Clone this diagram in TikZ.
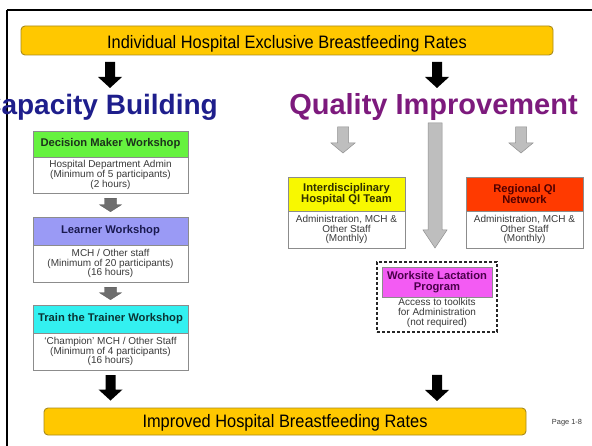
\documentclass[tikz,border=0pt]{standalone}
\usepackage{fontspec}
\setmainfont{Liberation Sans}
\newfontfamily\narrowsans[FakeStretch=0.91]{Liberation Sans}
\usetikzlibrary{calc}
\definecolor{barfill}{HTML}{FFC800}
\definecolor{barline}{HTML}{A88A1C}
\definecolor{dmgreen}{HTML}{66F23F}
\definecolor{lwblue}{HTML}{9A9AF5}
\definecolor{ttcyan}{HTML}{33F0F0}
\definecolor{idyellow}{HTML}{F8F800}
\definecolor{rqred}{HTML}{FF3A00}
\definecolor{wsmag}{HTML}{F35BF3}
\definecolor{bodytext}{HTML}{3A3A3A}
\definecolor{boxline}{HTML}{8C8C8C}
\definecolor{capnavy}{HTML}{1E1E8C}
\definecolor{qipurple}{HTML}{7D1A7D}
\definecolor{darkarrow}{HTML}{6E6E6E}
\definecolor{lightarrow}{HTML}{BEBEBE}
\definecolor{lightarrowline}{HTML}{8F8F8F}
\definecolor{dmtext}{HTML}{1C321C}
\definecolor{lwtext}{HTML}{1A1A50}
\definecolor{tttext}{HTML}{0A3434}
\definecolor{idtext}{HTML}{303000}
\definecolor{rqtext}{HTML}{500000}
\definecolor{wstext}{HTML}{4A004A}
\newcommand\blockarrow[6][]{%
  \path[#1] let \p1=(#2), \p2=(#3) in
    ({\x1-#4pt},{\y1}) -- ({\x1+#4pt},{\y1}) -- ({\x1+#4pt},{\y2+#6pt}) --
    ({\x1+#5pt},{\y2+#6pt}) -- ({\x1},{\y2}) -- ({\x1-#5pt},{\y2+#6pt}) --
    ({\x1-#4pt},{\y2+#6pt}) -- cycle;}
\tikzset{
  bar/.style={draw=barline, line width=0.9pt, fill=barfill, rounded corners=4pt,
    inner sep=0pt, font=\narrowsans\fontsize{18pt}{20pt}\selectfont},
  hdr/.style={draw=boxline, line width=0.5pt, inner sep=0pt, align=center,
    font=\bfseries\fontsize{11.2pt}{11pt}\selectfont},
  bdy/.style={draw=boxline, line width=0.5pt, fill=white, inner sep=0pt, align=center,
    text=bodytext, font=\fontsize{10pt}{9.6pt}\selectfont},
  title/.style={inner sep=0pt, anchor=base, font=\bfseries\fontsize{29pt}{32pt}\selectfont},
  blackarrow/.style={fill=black},
  darkgray/.style={fill=darkarrow, draw=darkarrow!80!black, line width=0.3pt},
  lightgray/.style={fill=lightarrow, draw=lightarrowline, line width=0.5pt},
}
\begin{document}
\begin{tikzpicture}[x=1pt,y=-1pt]
\useasboundingbox (0,0) rectangle (592,446);
\clip (0,0) rectangle (592,446);
\fill[white] (0,0) rectangle (592,446);
% frame
\draw[line width=2pt] (7,10) -- (600,10);
\draw[line width=2pt] (7,10) -- (7,460);
% top and bottom bars
\node[bar, minimum width=532pt, minimum height=29pt] (topbar) at (287,40.5) {};
\node[inner sep=0pt, anchor=base, font=\narrowsans\fontsize{18pt}{20pt}\selectfont] (toptext) at (287,48.5) {Individual Hospital Exclusive Breastfeeding Rates};
\node[bar, minimum width=482pt, minimum height=27pt] (botbar) at (285,421.5) {};
\node[inner sep=0pt, anchor=base, font=\narrowsans\fontsize{18pt}{20pt}\selectfont] (bottext) at (285,428) {Improved Hospital Breastfeeding Rates};
\node[inner sep=0pt, text=bodytext, font=\fontsize{7.4pt}{8pt}\selectfont] (page) at (567,423) {Page 1-8};
% titles
\node[title, text=capnavy, anchor=base east, font=\bfseries\fontsize{28pt}{32pt}\selectfont] (cap) at (218,115) {Capacity Building};
\node[title, text=qipurple] (qi) at (433.5,115) {Quality Improvement};
% left column
\node[hdr, fill=dmgreen, text=dmtext, minimum width=155pt, minimum height=26pt] (dmh) at (110.5,144) {Decision Maker Workshop};
\node[bdy, minimum width=155pt, minimum height=36pt] (dmb) at (110.5,175) {Hospital Department Admin\\(Minimum of 5 participants)\\(2 hours)};
\node[hdr, fill=lwblue, text=lwtext, minimum width=155pt, minimum height=28pt] (lwh) at (110.5,231) {Learner Workshop};
\node[bdy, minimum width=155pt, minimum height=37pt] (lwb) at (110.5,263.5) {MCH / Other staff\\(Minimum of 20 participants)\\(16 hours)};
\node[hdr, fill=ttcyan, text=tttext, minimum width=155pt, minimum height=28pt] (tth) at (110.5,319) {Train the Trainer Workshop};
\node[bdy, minimum width=155pt, minimum height=37pt] (ttb) at (110.5,351.5) {`Champion' MCH / Other Staff\\(Minimum of 4 participants)\\(16 hours)};
% right boxes
\node[hdr, fill=idyellow, text=idtext, minimum width=117pt, minimum height=34pt] (idh) at (346.5,194) {Interdisciplinary\\Hospital QI Team};
\node[bdy, minimum width=117pt, minimum height=37pt] (idb) at (346.5,229.5) {Administration, MCH \&\\Other Staff\\(Monthly)};
\node[hdr, fill=rqred, text=rqtext, minimum width=117pt, minimum height=34pt] (rqh) at (524.5,194) {Regional QI\\Network};
\node[bdy, minimum width=117pt, minimum height=37pt] (rqb) at (524.5,229.5) {Administration, MCH \&\\Other Staff\\(Monthly)};
\node[draw=black!85, line width=1.3pt, dash pattern=on 3pt off 2pt, fill=white, minimum width=120pt, minimum height=70pt] (ws) at (437,297) {};
\node[hdr, fill=wsmag, text=wstext, minimum width=110pt, minimum height=30pt] (wsh) at (437,282) {Worksite Lactation\\Program};
\node[bdy, draw=none, fill=none] (wsb) at (437,313) {Access to toolkits\\for Administration\\(not required)};
% arrow end points
\coordinate (a1s) at (110,62);  \coordinate (a1e) at (110,88);
\coordinate (a2s) at (437,62);  \coordinate (a2e) at (437,88);
\coordinate (g1s) at (343,127); \coordinate (g1e) at (343,153);
\coordinate (g2s) at (521,127); \coordinate (g2e) at (521,153);
\coordinate (g3s) at (435,123); \coordinate (g3e) at (435,248);
\coordinate (a3s) at (437,375); \coordinate (a3e) at (437,401);
% black arrows
\blockarrow[blackarrow]{a1s}{a1e}{5}{12}{11}
\blockarrow[blackarrow]{a2s}{a2e}{5}{12}{11}
\blockarrow[blackarrow]{$(ttb.south)+(0,5)$}{$(ttb.south |- botbar.north)+(0,-7)$}{5}{12}{11}
\blockarrow[blackarrow]{a3s}{a3e}{5}{12}{11}
% dark gray arrows between workshops
\blockarrow[darkgray]{$(dmb.south)+(0,5)$}{$(lwh.north)+(0,-5)$}{6}{11}{7}
\blockarrow[darkgray]{$(lwb.south)+(0,5)$}{$(tth.north)+(0,-5)$}{6}{11}{7}
% light gray arrows
\blockarrow[lightgray]{g1s}{g1e}{5.5}{12}{10}
\blockarrow[lightgray]{g2s}{g2e}{5.5}{12}{10}
\blockarrow[lightgray]{g3s}{g3e}{7}{12}{18}
\end{tikzpicture}
\end{document}
